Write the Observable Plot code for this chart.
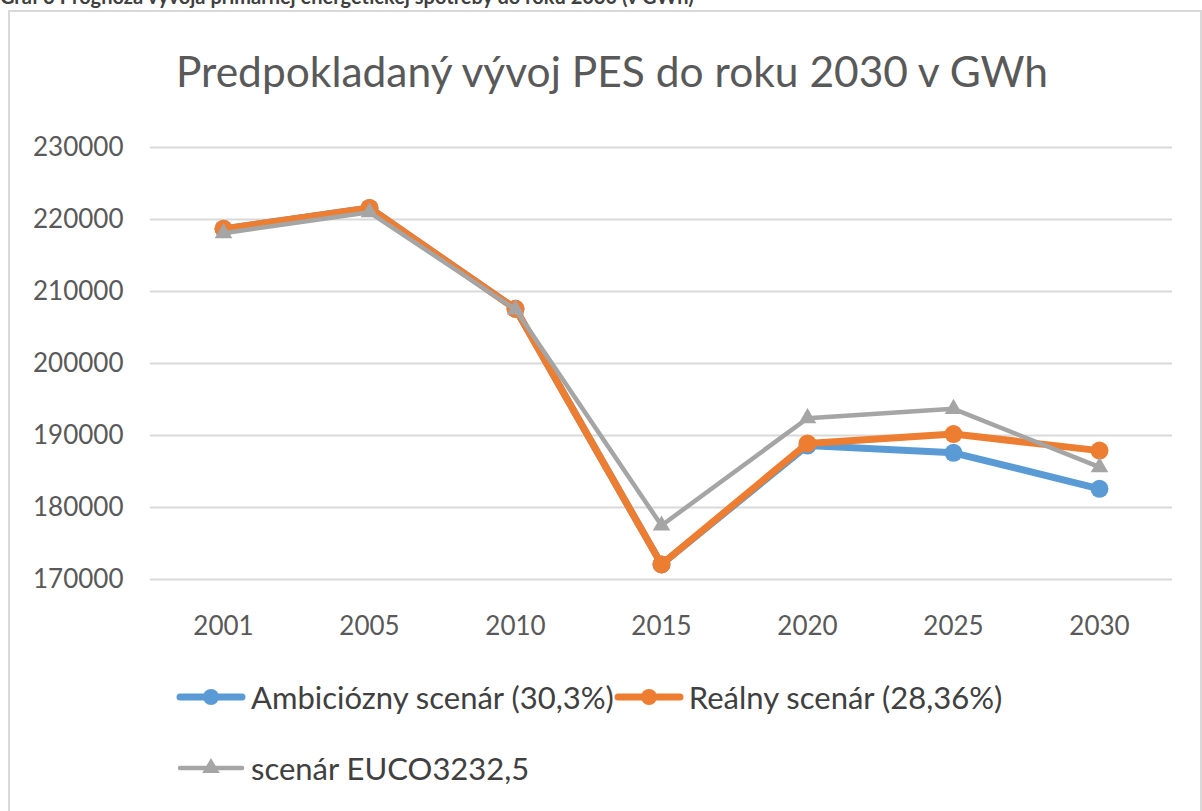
<!DOCTYPE html>
<html>
<head>
<meta charset="utf-8">
<script src="https://cdn.jsdelivr.net/npm/d3@7"></script>
<script src="https://cdn.jsdelivr.net/npm/@observablehq/plot@0.6"></script>
<style>
  html, body { margin: 0; padding: 0; background: #fff; }
  body { position: relative; width: 1202px; height: 811px; overflow: hidden; font-family: Lato, "Noto Sans", sans-serif; }
  #cap { position: absolute; left: 0; top: -16px; font-weight: bold; font-size: 20px; line-height: 24px; color: #404040; white-space: nowrap; }
  #box { position: absolute; left: 8px; top: 10px; width: 1190px; height: 830px; border: 2px solid #d9d9d9; }
  #title { position: absolute; left: 11px; width: 1202px; top: 50px; text-align: center; font-size: 42.5px; line-height: 1; color: #595959; white-space: nowrap; }
  #chart { position: absolute; left: 0; top: 100px; }
  .row { position: absolute; left: 176px; display: flex; align-items: center; height: 40px; }
  .leg { display: flex; align-items: center; font-size: 31px; color: #404040; white-space: nowrap; }
  .leg svg { margin-right: 5px; }
</style>
</head>
<body>
<div id="cap">Graf 3 Prognóza vývoja primárnej energetickej spotreby do roku 2030 (v GWh)</div>
<div id="box"></div>
<div id="title"></div>
<div id="chart"></div>
<div id="legend"></div>
<script>
const titleText = "Predpokladaný vývoj PES do roku 2030 v GWh";
const years = ["2001", "2005", "2010", "2015", "2020", "2025", "2030"];
const yTicks = [170000, 180000, 190000, 200000, 210000, 220000, 230000];
const seriesNames = ["Ambiciózny scenár (30,3%)", "Reálny scenár (28,36%)", "scenár EUCO3232,5"];
const ambiciozny = [218700, 221600, 207600, 172100, 188600, 187600, 182600];
const realny = [218700, 221600, 207600, 172100, 188900, 190200, 187900];
const euco = [218100, 221000, 207500, 177500, 192400, 193700, 185600];
const colors = ["#5B9BD5", "#ED7D31", "#A5A5A5"];

document.getElementById("title").textContent = titleText;

const toRows = (vals) => years.map((y, i) => ({year: y, value: vals[i]}));
const dA = toRows(ambiciozny), dR = toRows(realny), dE = toRows(euco);

const plot = Plot.plot({
  width: 1202,
  height: 560,
  marginLeft: 150,
  marginRight: 30,
  marginTop: 47,
  marginBottom: 81,
  style: {fontFamily: "Lato, 'Noto Sans', sans-serif", fontSize: "26px", color: "#595959", background: "transparent"},
  x: {type: "point", domain: years, padding: 0.5},
  y: {domain: [170000, 230000]},
  marks: [
    Plot.gridY(yTicks, {stroke: "#d9d9d9", strokeWidth: 2, strokeOpacity: 1}),
    Plot.axisY(yTicks, {tickSize: 0, tickPadding: 27, fontSize: 26, tickFormat: d3.format("d"), label: null}),
    Plot.axisX({tickSize: 0, tickPadding: 37, fontSize: 26, label: null}),
    Plot.line(dA, {x: "year", y: "value", stroke: colors[0], strokeWidth: 7, strokeLinejoin: "round"}),
    Plot.dot(dA, {x: "year", y: "value", r: 9, fill: colors[0], stroke: null}),
    Plot.line(dR, {x: "year", y: "value", stroke: colors[1], strokeWidth: 7, strokeLinejoin: "round"}),
    Plot.dot(dR, {x: "year", y: "value", r: 9, fill: colors[1], stroke: null}),
    Plot.line(dE, {x: "year", y: "value", stroke: colors[2], strokeWidth: 4.5, strokeLinejoin: "round"}),
    Plot.dot(dE, {x: "year", y: "value", r: 6.5, symbol: "triangle", fill: colors[2], stroke: null})
  ]
});
document.getElementById("chart").appendChild(plot);

// Legend
const rows = [[0, 1], [2]];
const rowTops = [697, 768];
const legend = document.getElementById("legend");
const ns = "http://www.w3.org/2000/svg";
rows.forEach((items, r) => {
  const row = document.createElement("div");
  row.className = "row";
  row.style.top = (rowTops[r] - 20) + "px";
  items.forEach(i => {
    const div = document.createElement("div");
    div.className = "leg";
    const svg = document.createElementNS(ns, "svg");
    svg.setAttribute("width", 70); svg.setAttribute("height", 24);
    const line = document.createElementNS(ns, "line");
    line.setAttribute("x1", 4); line.setAttribute("x2", 66);
    line.setAttribute("y1", 12); line.setAttribute("y2", 12);
    line.setAttribute("stroke", colors[i]);
    line.setAttribute("stroke-width", i === 2 ? 4.5 : 7);
    line.setAttribute("stroke-linecap", "round");
    svg.appendChild(line);
    if (i < 2) {
      const c = document.createElementNS(ns, "circle");
      c.setAttribute("cx", 35); c.setAttribute("cy", 12); c.setAttribute("r", 8);
      c.setAttribute("fill", colors[i]);
      svg.appendChild(c);
    } else {
      const p = document.createElementNS(ns, "path");
      p.setAttribute("d", d3.symbol(d3.symbolTriangle, Math.PI * 6.5 * 6.5)());
      p.setAttribute("transform", "translate(35,12)");
      p.setAttribute("fill", colors[i]);
      svg.appendChild(p);
    }
    div.appendChild(svg);
    const span = document.createElement("span");
    span.textContent = seriesNames[i];
    div.appendChild(span);
    row.appendChild(div);
  });
  legend.appendChild(row);
});
</script>
</body>
</html>
